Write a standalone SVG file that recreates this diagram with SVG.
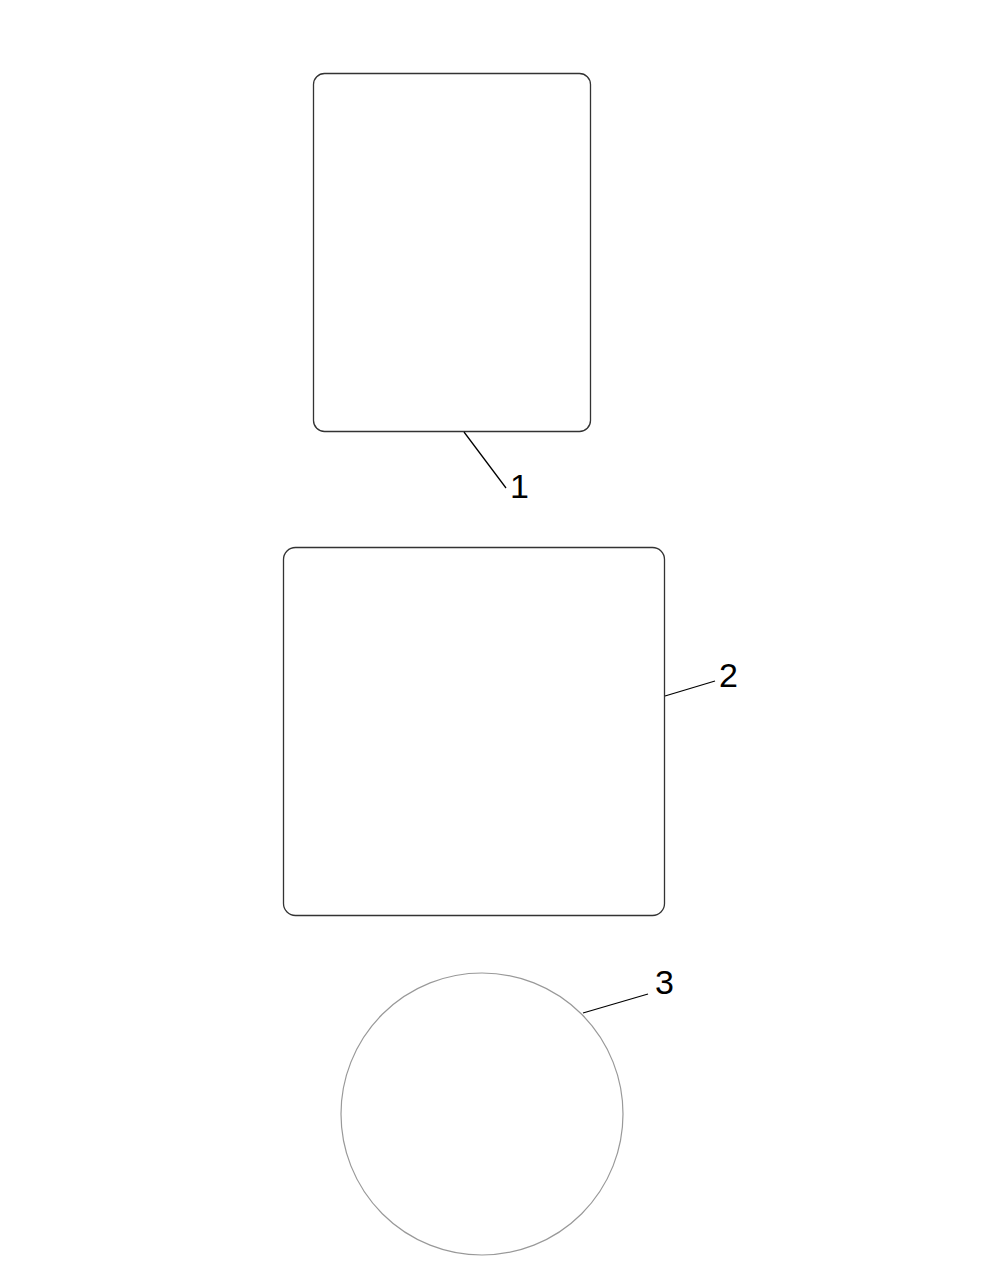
<svg xmlns="http://www.w3.org/2000/svg" width="1000" height="1262" viewBox="0 0 1000 1262">
<style>
.shape{fill:none;stroke:#333;stroke-width:1.3}
.circ{fill:none;stroke:#999;stroke-width:1.2}
.lead{fill:none;stroke:#000;stroke-width:1.3}
.lbl{font-family:"Liberation Sans",Arial,sans-serif;font-size:34px;fill:#000}
</style>
<rect width="1000" height="1262" fill="#fff"/>
<g id="node1"><rect class="shape" x="313.5" y="73.5" width="277" height="358" rx="11"/></g>
<g id="node2"><rect class="shape" x="283.5" y="547.5" width="381" height="368" rx="12"/></g>
<g id="node3"><circle class="circ" cx="482" cy="1114" r="141"/></g>
<g id="connectors">
<line class="lead" x1="464" y1="432" x2="506" y2="488"/>
<line class="lead" x1="665" y1="696" x2="715" y2="681"/>
<line class="lead" x1="583" y1="1013" x2="648" y2="994"/>
</g>
<g id="labels">
<text class="lbl" x="510" y="498">1</text>
<text class="lbl" x="719" y="687">2</text>
<text class="lbl" x="655" y="994">3</text>
</g>
</svg>
